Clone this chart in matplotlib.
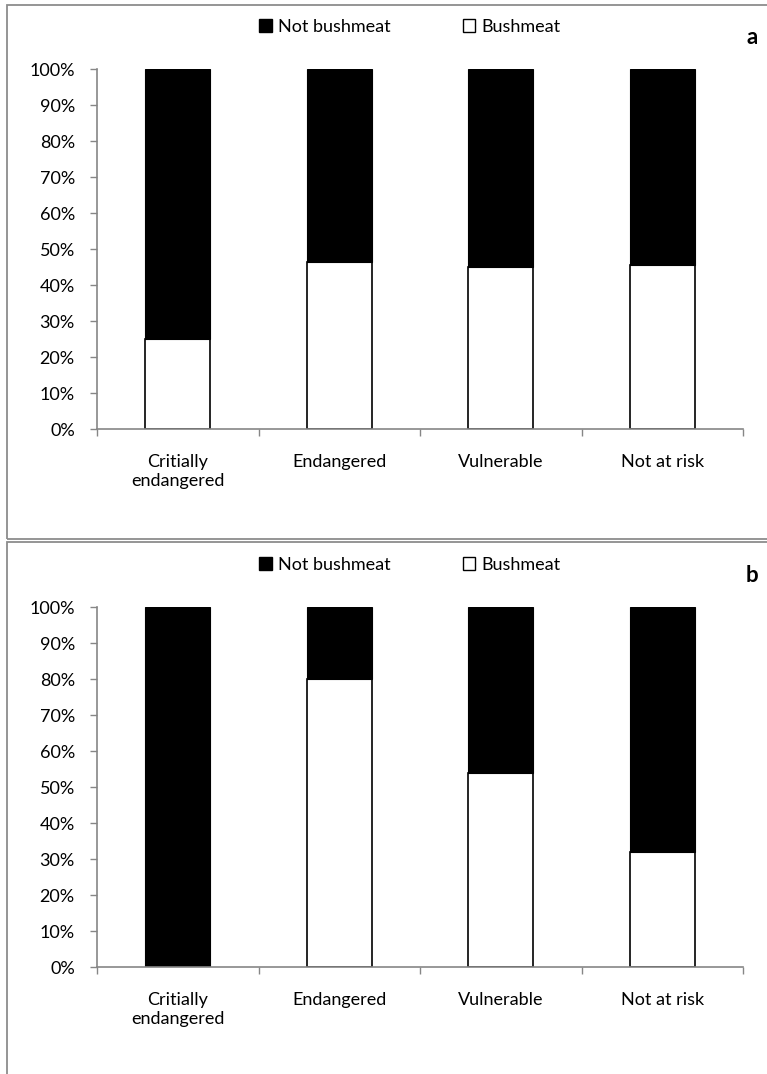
import numpy as np
import matplotlib
matplotlib.use("Agg")
from matplotlib import pyplot as plt
from matplotlib.patches import Patch, Rectangle

plt.rcParams['font.family'] = ['Lato', 'DejaVu Sans']

categories = ["Critially\nendangered", "Endangered", "Vulnerable", "Not at risk"]
bushmeat_a = [25, 46.5, 45, 45.5]
bushmeat_b = [0, 80, 54, 32]
panel_labels = ["a", "b"]

W, H = 767, 1074
fig = plt.figure(figsize=(W / 100, H / 100), dpi=100)

axis_grey = "#868686"
border_grey = "#8c8c8c"
fs = 13

# panel borders (right/bottom run off the picture)
fig.patches.append(Rectangle((7 / W, 1 - 539 / H), 2, 534 / H, transform=fig.transFigure,
                             fill=False, edgecolor=border_grey, lw=1.3))
fig.patches.append(Rectangle((7 / W, -1), 2, 1 + (1 - 542 / H), transform=fig.transFigure,
                             fill=False, edgecolor=border_grey, lw=1.3))

x = np.arange(len(categories))
for i, (bush, lab) in enumerate(zip([bushmeat_a, bushmeat_b], panel_labels)):
    off = i * 538
    ax = fig.add_axes([97 / W, 1 - (429 + off) / H, 646 / W, 360 / H])
    bush = np.array(bush, dtype=float)
    notbush = 100 - bush
    ax.bar(x, bush, width=0.4, color="white", edgecolor="black", linewidth=1.2, zorder=2)
    ax.bar(x, notbush, width=0.4, bottom=bush, color="black", edgecolor="black",
           linewidth=0.8, zorder=2)

    ax.set_xlim(-0.5, len(categories) - 0.5)
    ax.set_ylim(0, 100)
    ax.set_yticks(np.arange(0, 101, 10))
    ax.set_yticklabels([f"{v}%" for v in range(0, 101, 10)])
    ax.set_xticks(x)
    ax.set_xticklabels(categories, linespacing=1.2)
    ax.tick_params(axis="x", length=0, pad=18, labelsize=fs)
    ax.set_xticks(np.arange(-0.5, len(categories)), minor=True)
    ax.tick_params(axis="x", which="minor", length=5, color=axis_grey, width=1)
    ax.tick_params(axis="y", length=5, color=axis_grey, width=1, pad=11, labelsize=fs)
    for s in ["top", "right"]:
        ax.spines[s].set_visible(False)
    for s in ["left", "bottom"]:
        ax.spines[s].set_color(axis_grey)
        ax.spines[s].set_linewidth(1.2)

    handles = [Patch(facecolor="black", edgecolor="black", label="Not bushmeat"),
               Patch(facecolor="white", edgecolor="black", label="Bushmeat")]
    ax.legend(handles=handles, loc="center", ncol=2, frameon=False,
              bbox_to_anchor=(410 / W, 1 - (27 + off) / H), bbox_transform=fig.transFigure,
              handlelength=0.7, handleheight=0.7, handletextpad=0.35,
              columnspacing=4.0, fontsize=fs)
    fig.text(752 / W, 1 - (37 + off) / H, lab, fontsize=16, fontweight="bold",
             ha="center", va="center")

fig.savefig("out.png", dpi=100)
